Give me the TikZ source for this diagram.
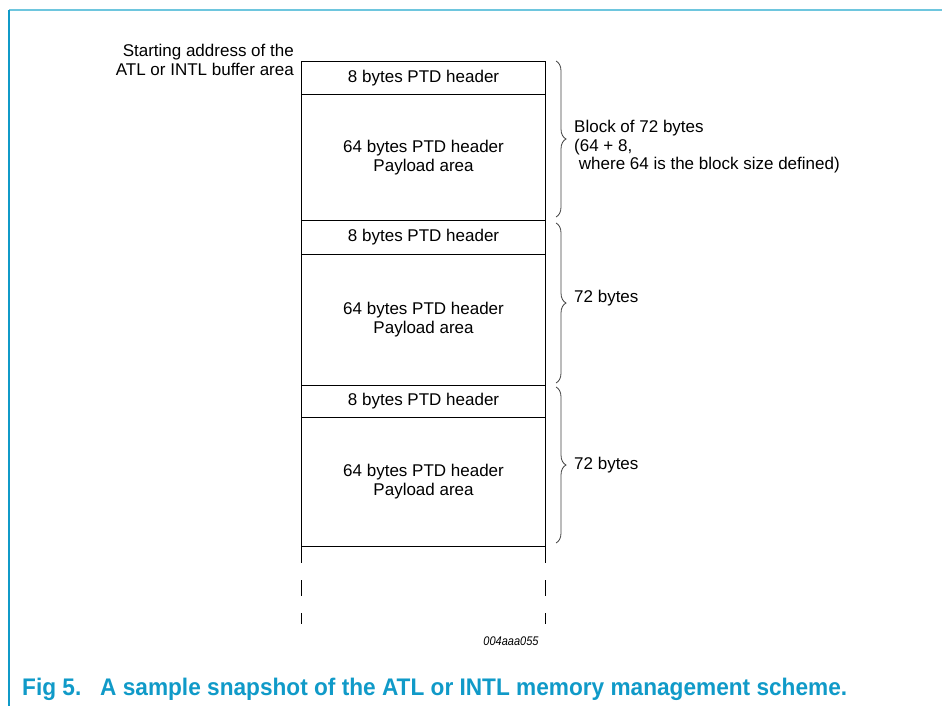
\documentclass[tikz,border=0pt]{standalone}
\usepackage{fontspec}
\setmainfont{Liberation Sans}
\usetikzlibrary{decorations.pathreplacing}
\definecolor{capblue}{RGB}{16,154,200}
\definecolor{framecyan}{RGB}{110,198,222}
\tikzset{
  cell/.style={draw, line width=1.1pt, minimum width=244pt, inner sep=0pt, anchor=north west, align=center, font=\fontsize{17}{19}\selectfont},
  lbl/.style={font=\fontsize{17}{18.5}\selectfont, inner sep=0pt, align=left},
  brc/.style={draw=black!75, line width=0.8pt, decorate, decoration={brace, amplitude=10pt, aspect=0.5}},
  dsh/.style={line width=0.9pt, dash pattern=on 16pt off 17pt}
}
\begin{document}
\begin{tikzpicture}[x=1pt,y=-1pt]
\useasboundingbox (0,0) rectangle (942,706);
% frame
\draw[framecyan, line width=2pt] (9,10) -- (942,10);
\draw[capblue, line width=1.5pt] (9,10) -- (9,706);
% cells
\node[cell, minimum height=33pt] (h1) at (301,61) {8 bytes PTD header};
\node[cell, minimum height=126pt] (p1) at (301,94) {64 bytes PTD header\\Payload area};
\node[cell, minimum height=34pt] (h2) at (301,220) {8 bytes PTD header};
\node[cell, minimum height=131pt] (p2) at (301,254) {64 bytes PTD header\\Payload area};
\node[cell, minimum height=32pt] (h3) at (301,385) {8 bytes PTD header};
\node[cell, minimum height=129pt] (p3) at (301,417) {64 bytes PTD header\\Payload area};
% continuation
\coordinate (l1) at (301,547);
\coordinate (l2) at (301,624);
\coordinate (r1) at (545,547);
\coordinate (r2) at (545,624);
\draw[dsh] (l1) -- (l2);
\draw[dsh] (r1) -- (r2);
% starting address label
\node[lbl, align=right, anchor=north east] (start) at (294,44) {Starting address of the\\ATL or INTL buffer area};
% braces
\coordinate (b1t) at (556,61);
\coordinate (b1b) at (556,217);
\coordinate (b2t) at (556,223);
\coordinate (b2b) at (556,383);
\coordinate (b3t) at (556,387);
\coordinate (b3b) at (556,543);
\draw[brc] (b1t) -- (b1b);
\draw[brc] (b2t) -- (b2b);
\draw[brc] (b3t) -- (b3b);
\node[lbl, anchor=north west] (t1) at (574,120) {Block of 72 bytes\\(64 + 8,\\\ where 64 is the block size defined)};
\node[lbl, anchor=west] (t2) at (574,298) {72 bytes};
\node[lbl, anchor=west] (t3) at (574,465) {72 bytes};
% id
\node[font=\fontsize{12.5}{14}\selectfont\itshape, inner sep=0pt] (id) at (511,641) {\scalebox{0.88}[1]{004aaa055}};
% caption
\node[anchor=west, inner sep=0pt, text=capblue, font=\fontsize{24}{26}\selectfont\bfseries] (cap) at (22,689) {\resizebox{825pt}{\height}{Fig 5.\hspace{20pt}A sample snapshot of the ATL or INTL memory management scheme.}};
\end{tikzpicture}
\end{document}
